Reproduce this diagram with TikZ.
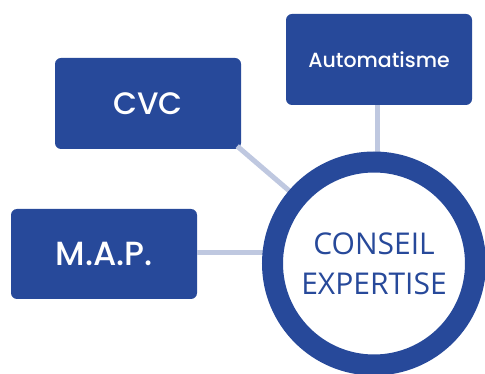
\documentclass[tikz,border=0pt]{standalone}
\usepackage{fontspec}
\setmainfont{Open Sans}
\newfontfamily\boxfont{Poppins Medium}
\definecolor{navy}{HTML}{27499A}
\definecolor{linkc}{HTML}{BFC8E0}
\tikzset{
  boxn/.style={fill=navy, rounded corners=6pt, text=white, inner sep=0pt, font=\boxfont},
  link/.style={draw=linkc, line width=5pt},
}
\begin{document}
\begin{tikzpicture}[x=1pt,y=-1pt]
\useasboundingbox (0,0) rectangle (485,374);
\node[boxn, minimum width=186pt, minimum height=91pt, font=\boxfont\fontsize{20.5}{24}\selectfont] (auto) at (379,59.5) {Automatisme};
\node[boxn, minimum width=186pt, minimum height=91pt, font=\boxfont\fontsize{31}{36}\selectfont] (cvc) at (148,103.5) {CVC};
\node[boxn, minimum width=186pt, minimum height=90pt, font=\boxfont\fontsize{33.5}{36}\selectfont] (map) at (104,254) {M.A.P.};
\coordinate (cc) at (374,263.5);
\draw[link] (auto.south -| 377,0) -- (377,160);
\draw[link] (cvc.south east) ++(-4,-3) coordinate (cvcc) -- (cc);
\draw[link] (map.east |- 0,253) -- (cc |- 0,253);
\node[circle, draw=navy, line width=21pt, fill=white, minimum size=203pt, inner sep=0pt, text=navy, align=center, font=\fontsize{30}{40}\selectfont] (ce) at (cc) {CONSEIL\\EXPERTISE};
\end{tikzpicture}
\end{document}
